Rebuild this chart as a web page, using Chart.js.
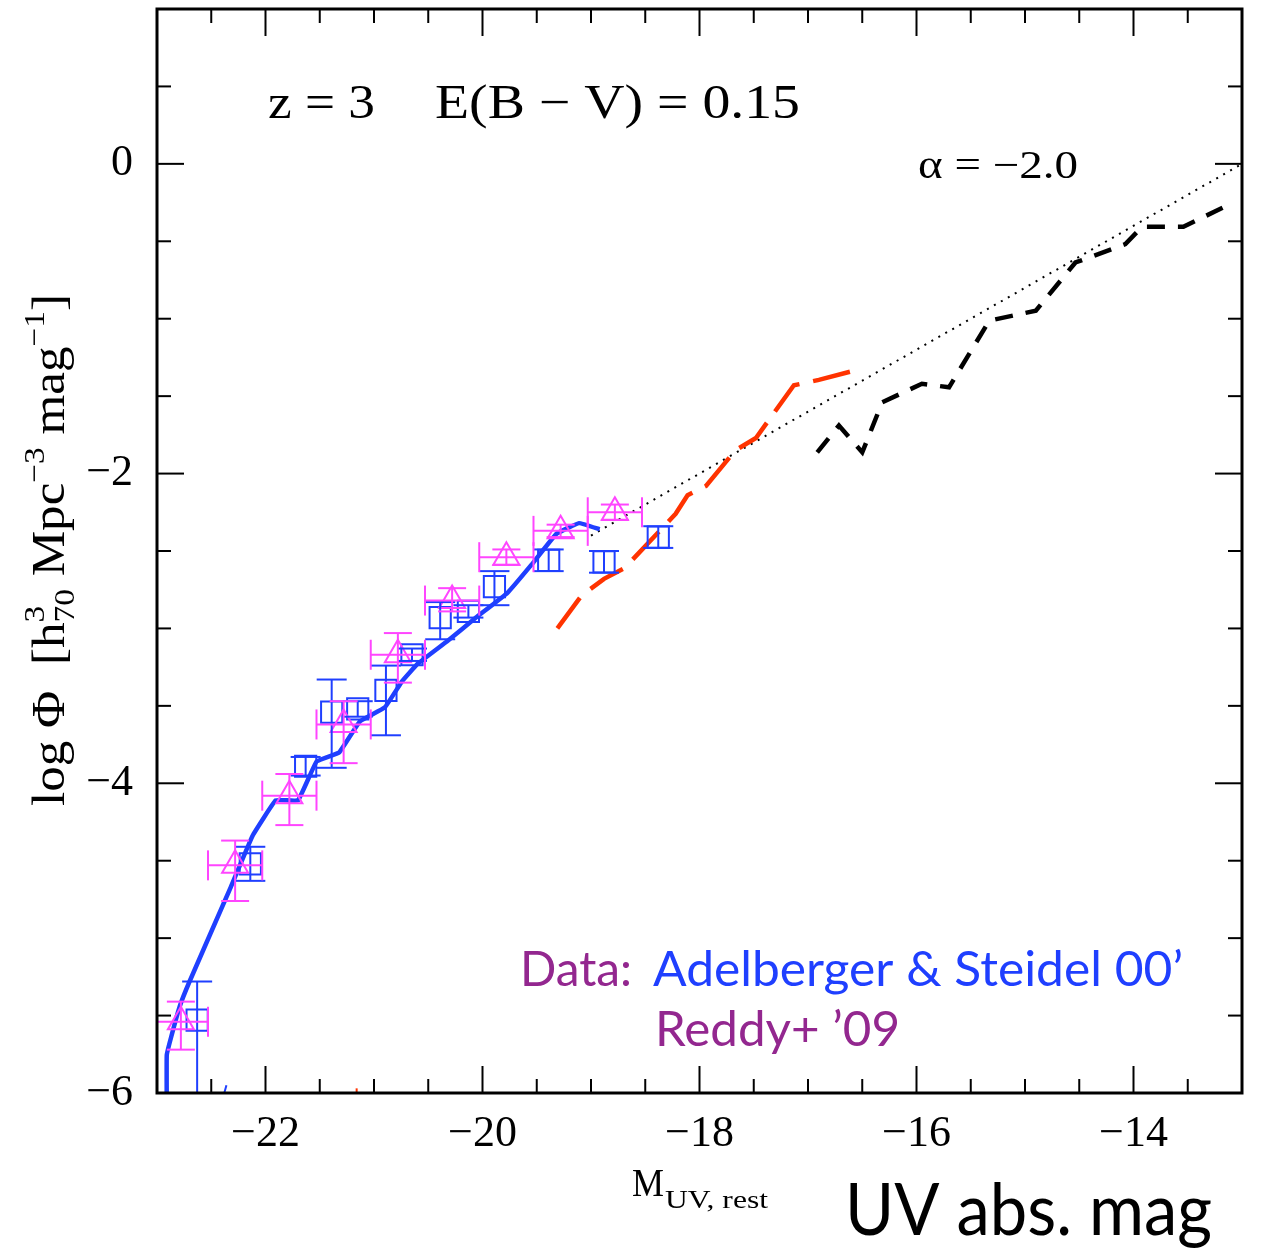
<!DOCTYPE html>
<html>
<head>
<meta charset="utf-8">
<script src="https://cdn.jsdelivr.net/npm/chart.js@4.4.1/dist/chart.umd.min.js"></script>
<style>
	body { margin: 0; background: #fff; }
	canvas { display: block; }
</style>
</head>
<body>
<canvas id="lf-chart" width="1261" height="1251"></canvas>
<script>
var xTicks = [-22, -20, -18, -16, -14];
var yTicks = [-6, -4, -2, 0];

// Adelberger & Steidel 2000, blue squares
var asMag = [-22.63, -22.14, -21.63, -21.39, -21.15, -20.89, -20.65, -20.39, -20.13, -19.89, -19.39, -18.88, -18.38];
var asPhi = [-5.53, -4.52, -3.89, -3.54, -3.52, -3.40, -3.17, -2.93, -2.89, -2.73, -2.56, -2.57, -2.41];
var asErrHi = [0.25, 0.11, 0.06, 0.21, 0.05, 0.16, 0.04, 0.10, 0.04, 0.10, 0.07, 0.07, 0.07];
var asErrLo = [0.50, 0.11, 0.06, 0.36, 0.05, 0.29, 0.04, 0.14, 0.04, 0.12, 0.07, 0.07, 0.07];

// Reddy+ 2009, magenta triangles (bins 0.5 mag wide)
var rdMag = [-22.78, -22.28, -21.78, -21.28, -20.78, -20.28, -19.78, -19.28, -18.78];
var rdPhi = [-5.54, -4.53, -4.08, -3.62, -3.17, -2.82, -2.54, -2.37, -2.25];
var rdErrHi = [0.13, 0.16, 0.14, 0.15, 0.14, 0.08, 0.05, 0.04, 0.05];
var rdErrLo = [0.18, 0.23, 0.19, 0.25, 0.18, 0.07, 0.05, 0.04, 0.05];
var rdHalfBin = 0.25;

// simulation, bright end (solid blue)
var simMag = [-22.91, -22.91, -22.87, -22.79, -22.70, -22.32, -22.12, -21.905, -21.70, -21.53, -21.32, -21.13, -20.90, -20.74, -20.60, -20.32, -20.06, -19.77, -19.55, -19.32, -19.11, -18.92];
var simPhi = [-6.10, -5.755, -5.64, -5.44, -5.28, -4.67, -4.34, -4.11, -4.11, -3.86, -3.80, -3.60, -3.51, -3.34, -3.23, -3.08, -2.93, -2.77, -2.59, -2.39, -2.32, -2.36];

// higher resolution run (red dashed)
var midMag = [-19.31, -19.09, -18.88, -18.69, -18.22, -18.11, -17.94, -17.67, -17.48, -17.13, -16.90, -16.52];
var midPhi = [-3.00, -2.79, -2.68, -2.61, -2.26, -2.14, -2.08, -1.85, -1.77, -1.43, -1.395, -1.325];

// faint end run (black dashed)
var faintMag = [-16.915, -16.715, -16.50, -16.316, -15.95, -15.70, -15.33, -14.90, -14.535, -14.075, -13.92, -13.54, -13.11];
var faintPhi = [-1.863, -1.69, -1.863, -1.54, -1.42, -1.443, -1.013, -0.948, -0.637, -0.518, -0.406, -0.406, -0.26];

// faint-end slope alpha = -2.0 (dotted)
var slopeMag = [-19.0, -13.0];
var slopePhi = [-2.4, 0.0];

// curve ends poking in at the bottom edge
var blueStubMag = [-22.40, -22.36];
var blueStubPhi = [-6.05, -5.95];
var redStubMag = [-21.16, -21.16];
var redStubPhi = [-6.05, -5.97];

var BLUE = '#1f3fff';
var MAGENTA = '#ff45ff';
var RED = '#ff3300';
var PURPLE = '#93278f';
var SERIF = '"Liberation Serif", "Times New Roman", serif';
var SANS = 'Lato, "Open Sans", sans-serif';

function pts(xs, ys){
	return xs.map(function(x, i){ return {x: x, y: ys[i]}; });
}

function minus(v){
	return v < 0 ? '\u2212' + Math.abs(v) : '' + v;
}

function seg(ctx, x1, y1, x2, y2){
	ctx.beginPath();
	ctx.moveTo(x1, y1);
	ctx.lineTo(x2, y2);
	ctx.stroke();
}

// draw text stretched to a given width
function fit(ctx, txt, x, y, w, font, color){
	ctx.save();
	ctx.font = font;
	ctx.fillStyle = color;
	ctx.textAlign = 'left';
	ctx.textBaseline = 'alphabetic';
	var m = ctx.measureText(txt).width;
	ctx.translate(x, y);
	ctx.scale(w / m, 1);
	ctx.fillText(txt, 0, 0);
	ctx.restore();
}

var errorBars = {
	id: 'errorBars',
	afterDatasetsDraw: function(chart){
		var ctx = chart.ctx, xs = chart.scales.x, ys = chart.scales.y, a = chart.chartArea;
		ctx.save();
		ctx.beginPath();
		ctx.rect(a.left, a.top, a.right - a.left, a.bottom - a.top);
		ctx.clip();
		ctx.lineWidth = 2;

		ctx.strokeStyle = BLUE;
		asMag.forEach(function(m, i){
			var px = xs.getPixelForValue(m);
			var top = ys.getPixelForValue(asPhi[i] + asErrHi[i]);
			var bot = ys.getPixelForValue(asPhi[i] - asErrLo[i]);
			seg(ctx, px, top, px, bot);
			seg(ctx, px - 15, top, px + 15, top);
			seg(ctx, px - 15, bot, px + 15, bot);
		});

		ctx.strokeStyle = MAGENTA;
		rdMag.forEach(function(m, i){
			var px = xs.getPixelForValue(m);
			var py = ys.getPixelForValue(rdPhi[i]);
			var top = ys.getPixelForValue(rdPhi[i] + rdErrHi[i]);
			var bot = ys.getPixelForValue(rdPhi[i] - rdErrLo[i]);
			var l = xs.getPixelForValue(m - rdHalfBin);
			var r = xs.getPixelForValue(m + rdHalfBin);
			seg(ctx, px, top, px, bot);
			seg(ctx, px - 14, top, px + 14, top);
			seg(ctx, px - 14, bot, px + 14, bot);
			seg(ctx, l, py, r, py);
			seg(ctx, l, py - 15, l, py + 15);
			seg(ctx, r, py - 15, r, py + 15);
		});
		ctx.restore();
	}
};

var frame = {
	id: 'frame',
	afterDraw: function(chart){
		var ctx = chart.ctx, xs = chart.scales.x, ys = chart.scales.y, a = chart.chartArea;
		ctx.save();
		ctx.strokeStyle = '#000';
		ctx.lineWidth = 2;
		var k, v, p, len;
		for(k = 1; k < 20; k++){
			v = -23 + k * 0.5;
			p = xs.getPixelForValue(v);
			len = (v % 2 === 0) ? 27 : 14;
			seg(ctx, p, a.bottom, p, a.bottom - len);
			seg(ctx, p, a.top, p, a.top + len);
		}
		for(k = 1; k < 14; k++){
			v = -6 + k * 0.5;
			p = ys.getPixelForValue(v);
			len = (v % 2 === 0) ? 27 : 14;
			seg(ctx, a.left, p, a.left + len, p);
			seg(ctx, a.right, p, a.right - len, p);
		}
		ctx.lineWidth = 3;
		ctx.strokeRect(a.left, a.top, a.right - a.left, a.bottom - a.top);
		ctx.restore();

		// labels inside the panel
		fit(ctx, 'z = 3', 268, 118, 107, '48px ' + SERIF, '#000');
		fit(ctx, 'E(B \u2212 V) = 0.15', 435, 118, 365, '48px ' + SERIF, '#000');
		fit(ctx, '\u03b1 = \u22122.0', 918, 178, 160, '40px ' + SERIF, '#000');

		fit(ctx, 'Data:', 520, 986, 112, '48px ' + SANS, PURPLE);
		fit(ctx, 'Adelberger & Steidel 00\u2019', 653, 986, 530, '48px ' + SANS, BLUE);
		fit(ctx, 'Reddy+ \u201909', 655, 1046, 245, '48px ' + SANS, PURPLE);

		// x axis titles
		fit(ctx, 'M', 632, 1196, 32, '40px ' + SERIF, '#000');
		fit(ctx, 'UV, rest', 665, 1208, 103, '26px ' + SERIF, '#000');
		fit(ctx, 'UV abs. mag', 845, 1235, 367, '72px ' + SANS, '#000');

		// y axis title, rotated
		ctx.save();
		ctx.fillStyle = '#000';
		ctx.textBaseline = 'alphabetic';
		var big = '46px ' + SERIF, small = '30px ' + SERIF;
		var parts = [
			['log \u03a6  [h', big, 0],
			['3', small, -20, '70', 10],
			[' Mpc', big, 0],
			['\u22123', small, -20],
			[' mag', big, 0],
			['\u22121', small, -20],
			[']', big, 0]
		];
		var total = 0;
		parts.forEach(function(q){
			ctx.font = q[1];
			var w = ctx.measureText(q[0]).width;
			if(q[3]) w = Math.max(w, ctx.measureText(q[3]).width);
			q.w = w;
			total += w;
		});
		ctx.translate(64, 806);
		ctx.rotate(-Math.PI / 2);
		ctx.scale(512 / total, 1);
		var x = 0;
		parts.forEach(function(q){
			ctx.font = q[1];
			ctx.fillText(q[0], x, q[2]);
			if(q[3]) ctx.fillText(q[3], x, q[4]);
			x += q.w;
		});
		ctx.restore();
	}
};

var canvas = document.getElementById('lf-chart').getContext('2d');
var lfChart = new Chart(canvas, {
	type: 'scatter',
	data: {
		datasets: [
			{
				data: pts(rdMag, rdPhi),
				pointStyle: 'triangle',
				pointRadius: 15,
				pointBorderWidth: 2,
				pointBorderColor: MAGENTA,
				pointBackgroundColor: 'rgba(0,0,0,0)'
			},
			{
				data: pts(asMag, asPhi),
				pointStyle: 'rect',
				pointRadius: 15,
				pointBorderWidth: 2,
				pointBorderColor: BLUE,
				pointBackgroundColor: 'rgba(0,0,0,0)'
			},
			{
				data: pts(simMag, simPhi),
				showLine: true,
				pointRadius: 0,
				borderColor: BLUE,
				borderWidth: 4.5,
				tension: 0.08
			},
			{
				data: pts(midMag, midPhi),
				showLine: true,
				pointRadius: 0,
				borderColor: RED,
				borderWidth: 4.5,
				borderDash: [38, 14]
			},
			{
				data: pts(faintMag, faintPhi),
				showLine: true,
				pointRadius: 0,
				borderColor: '#000',
				borderWidth: 4.5,
				borderDash: [18, 13]
			},
			{
				data: pts(slopeMag, slopePhi),
				showLine: true,
				pointRadius: 0,
				borderColor: '#000',
				borderWidth: 2,
				borderDash: [2, 6]
			},
			{
				data: pts(blueStubMag, blueStubPhi),
				showLine: true,
				pointRadius: 0,
				borderColor: BLUE,
				borderWidth: 2
			},
			{
				data: pts(redStubMag, redStubPhi),
				showLine: true,
				pointRadius: 0,
				borderColor: RED,
				borderWidth: 2
			}
		]
	},
	options: {
		responsive: false,
		animation: false,
		devicePixelRatio: 1,
		layout: {
			autoPadding: false,
			padding: { left: 0, right: 19, top: 9, bottom: 0 }
		},
		plugins: {
			legend: { display: false },
			tooltip: { enabled: false }
		},
		scales: {
			x: {
				type: 'linear',
				min: -23,
				max: -13,
				grid: { display: false, drawTicks: false },
				border: { display: false },
				afterBuildTicks: function(s){
					s.ticks = xTicks.map(function(v){ return {value: v}; });
				},
				afterFit: function(s){
					s.height = 158;
					s.paddingLeft = 0;
					s.paddingRight = 0;
				},
				ticks: {
					autoSkip: false,
					maxRotation: 0,
					padding: 15,
					color: '#000',
					font: { family: SERIF, size: 44 },
					callback: function(v){ return minus(v); }
				}
			},
			y: {
				type: 'linear',
				min: -6,
				max: 1,
				grid: { display: false, drawTicks: false },
				border: { display: false },
				afterBuildTicks: function(s){
					s.ticks = yTicks.map(function(v){ return {value: v}; });
				},
				afterFit: function(s){
					s.width = 157;
					s.paddingTop = 0;
					s.paddingBottom = 0;
				},
				ticks: {
					autoSkip: false,
					padding: 24,
					color: '#000',
					font: { family: SERIF, size: 44 },
					callback: function(v){ return minus(v); }
				}
			}
		}
	},
	plugins: [errorBars, frame]
});
</script>
</body>
</html>
